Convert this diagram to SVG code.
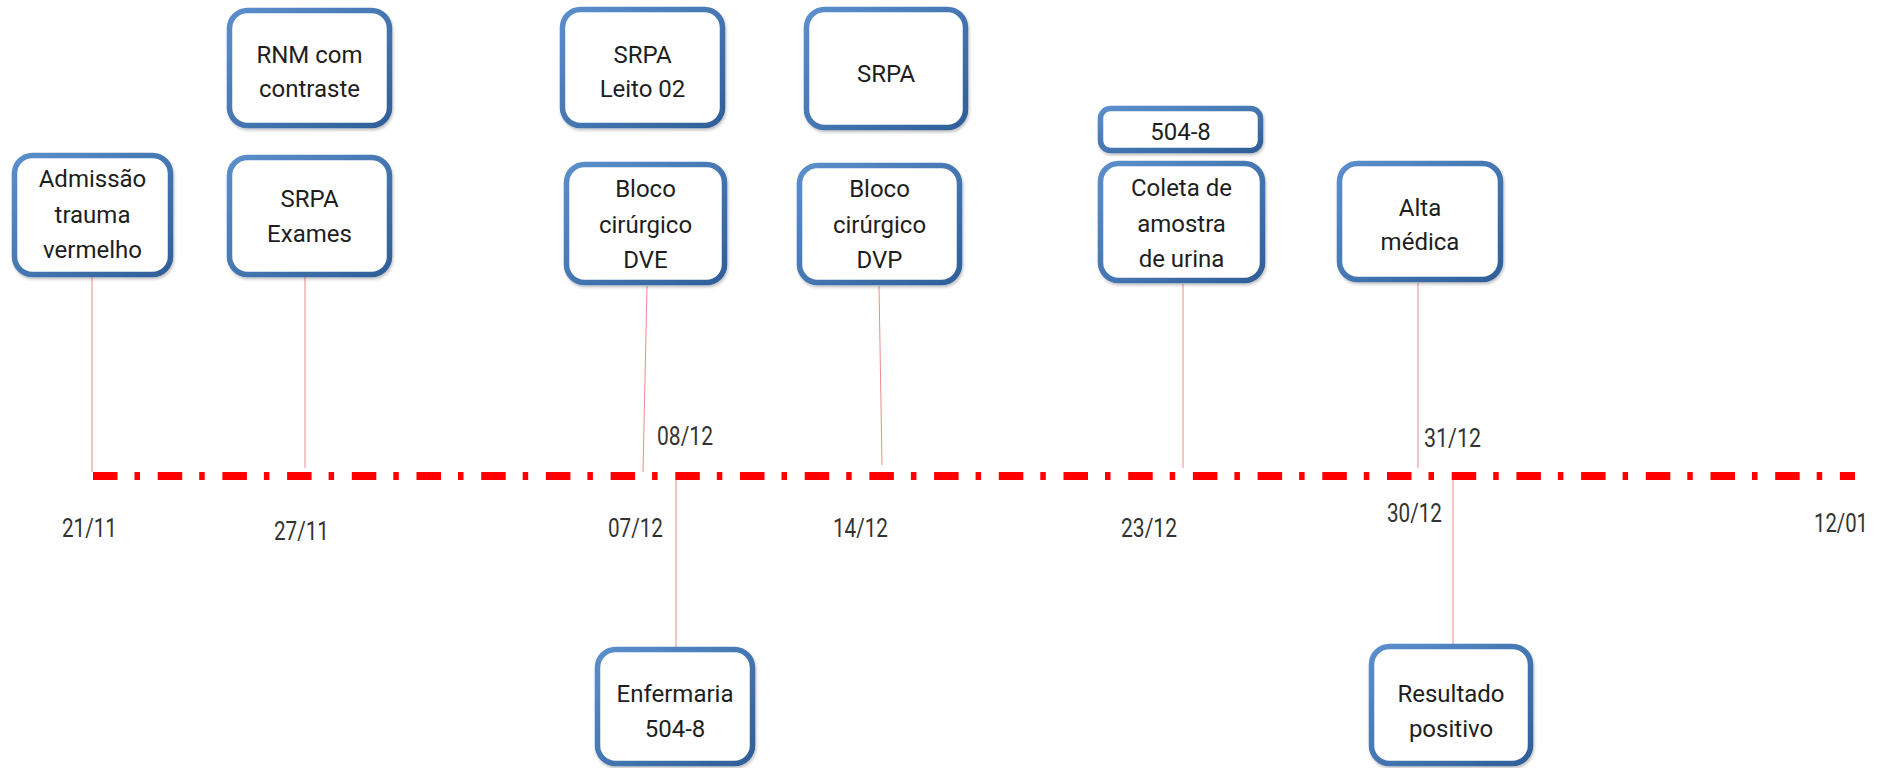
<svg xmlns="http://www.w3.org/2000/svg" width="1880" height="768" viewBox="0 0 1880 768">
  <defs>
    <linearGradient id="edge" x1="0" y1="0" x2="1" y2="1">
      <stop offset="0" stop-color="#5b8fcc"/>
      <stop offset="1" stop-color="#2f5f98"/>
    </linearGradient>
    <filter id="shade" x="-10%" y="-10%" width="120%" height="125%">
      <feDropShadow dx="1" dy="2" stdDeviation="1.5" flood-color="#000" flood-opacity="0.25"/>
    </filter>
  </defs>
  <style>
    .box { fill: #ffffff; stroke: url(#edge); stroke-width: 5.5; filter: url(#shade); }
    .lbl { font-family: Roboto, "Liberation Sans", sans-serif; font-size: 24px; fill: #1e1e1e; text-anchor: middle; }
    .date { font-family: Roboto, "Liberation Sans", sans-serif; font-size: 25px; fill: #333; }
    .tick { stroke: #f08a8a; stroke-width: 1; fill: none; }
    .axis { stroke: #ff0000; stroke-width: 8; stroke-dasharray: 24.5 17 5.5 17.7; fill: none; }
  </style>
  <rect width="1880" height="768" fill="#ffffff"/>

  <!-- timeline axis and ticks -->
  <g id="connectors">
    <line class="tick" x1="92" y1="277" x2="92" y2="472"/>
    <line class="tick" x1="305" y1="277" x2="305" y2="468"/>
    <line class="tick" x1="647" y1="286" x2="643" y2="472"/>
    <line class="tick" x1="879" y1="286" x2="882" y2="465"/>
    <line class="tick" x1="1183" y1="284" x2="1183" y2="468"/>
    <line class="tick" x1="1418" y1="283" x2="1418" y2="468"/>
    <line class="tick" x1="676" y1="480" x2="676" y2="647"/>
    <line class="tick" x1="1453" y1="480" x2="1453" y2="644"/>
    <line class="axis" x1="93" y1="476" x2="1855" y2="476"/>
  </g>

  <!-- date labels -->
  <g id="dates">
    <text class="date" x="62" y="537" textLength="55" lengthAdjust="spacingAndGlyphs">21/11</text>
    <text class="date" x="274" y="540" textLength="55" lengthAdjust="spacingAndGlyphs">27/11</text>
    <text class="date" x="608" y="537" textLength="55" lengthAdjust="spacingAndGlyphs">07/12</text>
    <text class="date" x="657" y="445" textLength="56" lengthAdjust="spacingAndGlyphs">08/12</text>
    <text class="date" x="833" y="537" textLength="55" lengthAdjust="spacingAndGlyphs">14/12</text>
    <text class="date" x="1121" y="537" textLength="56" lengthAdjust="spacingAndGlyphs">23/12</text>
    <text class="date" x="1424" y="447" textLength="57" lengthAdjust="spacingAndGlyphs">31/12</text>
    <text class="date" x="1387" y="522" textLength="55" lengthAdjust="spacingAndGlyphs">30/12</text>
    <text class="date" x="1814" y="532" textLength="54" lengthAdjust="spacingAndGlyphs">12/01</text>
  </g>

  <g id="admissao">
    <rect class="box" x="14.5" y="155.5" width="156" height="119" rx="18"/>
    <text class="lbl" x="92.5" y="187">Admissão</text>
    <text class="lbl" x="92.5" y="223">trauma</text>
    <text class="lbl" x="92.5" y="258">vermelho</text>
  </g>

  <g id="rnm">
    <rect class="box" x="229.5" y="10.5" width="160" height="115" rx="18"/>
    <text class="lbl" x="309.5" y="63">RNM com</text>
    <text class="lbl" x="309.5" y="97">contraste</text>
  </g>

  <g id="srpa-exames">
    <rect class="box" x="229.5" y="157.5" width="160" height="117" rx="18"/>
    <text class="lbl" x="309.5" y="207">SRPA</text>
    <text class="lbl" x="309.5" y="242">Exames</text>
  </g>

  <g id="srpa-leito">
    <rect class="box" x="562.5" y="9.5" width="160" height="116" rx="18"/>
    <text class="lbl" x="642.5" y="63">SRPA</text>
    <text class="lbl" x="642.5" y="97">Leito 02</text>
  </g>

  <g id="bloco-dve">
    <rect class="box" x="566.5" y="164.5" width="158" height="118" rx="18"/>
    <text class="lbl" x="645.5" y="197">Bloco</text>
    <text class="lbl" x="645.5" y="233">cirúrgico</text>
    <text class="lbl" x="645.5" y="268">DVE</text>
  </g>

  <g id="srpa">
    <rect class="box" x="806.5" y="9.5" width="159" height="118" rx="18"/>
    <text class="lbl" x="886" y="82">SRPA</text>
  </g>

  <g id="bloco-dvp">
    <rect class="box" x="799.5" y="165.5" width="160" height="117" rx="18"/>
    <text class="lbl" x="879.5" y="197">Bloco</text>
    <text class="lbl" x="879.5" y="233">cirúrgico</text>
    <text class="lbl" x="879.5" y="268">DVP</text>
  </g>

  <g id="leito-504">
    <rect class="box" x="1100.5" y="108.5" width="160" height="42" rx="10"/>
    <text class="lbl" x="1180.5" y="140">504-8</text>
  </g>

  <g id="coleta">
    <rect class="box" x="1100.5" y="163.5" width="162" height="117" rx="18"/>
    <text class="lbl" x="1181.5" y="196">Coleta de</text>
    <text class="lbl" x="1181.5" y="232">amostra</text>
    <text class="lbl" x="1181.5" y="267">de urina</text>
  </g>

  <g id="alta">
    <rect class="box" x="1339.5" y="163.5" width="161" height="116" rx="18"/>
    <text class="lbl" x="1420" y="216">Alta</text>
    <text class="lbl" x="1420" y="250">médica</text>
  </g>

  <g id="enfermaria">
    <rect class="box" x="597.5" y="649.5" width="155" height="114" rx="18"/>
    <text class="lbl" x="675" y="702">Enfermaria</text>
    <text class="lbl" x="675" y="737">504-8</text>
  </g>

  <g id="resultado">
    <rect class="box" x="1371.5" y="646.5" width="159" height="117" rx="18"/>
    <text class="lbl" x="1451" y="702">Resultado</text>
    <text class="lbl" x="1451" y="737">positivo</text>
  </g>
</svg>
